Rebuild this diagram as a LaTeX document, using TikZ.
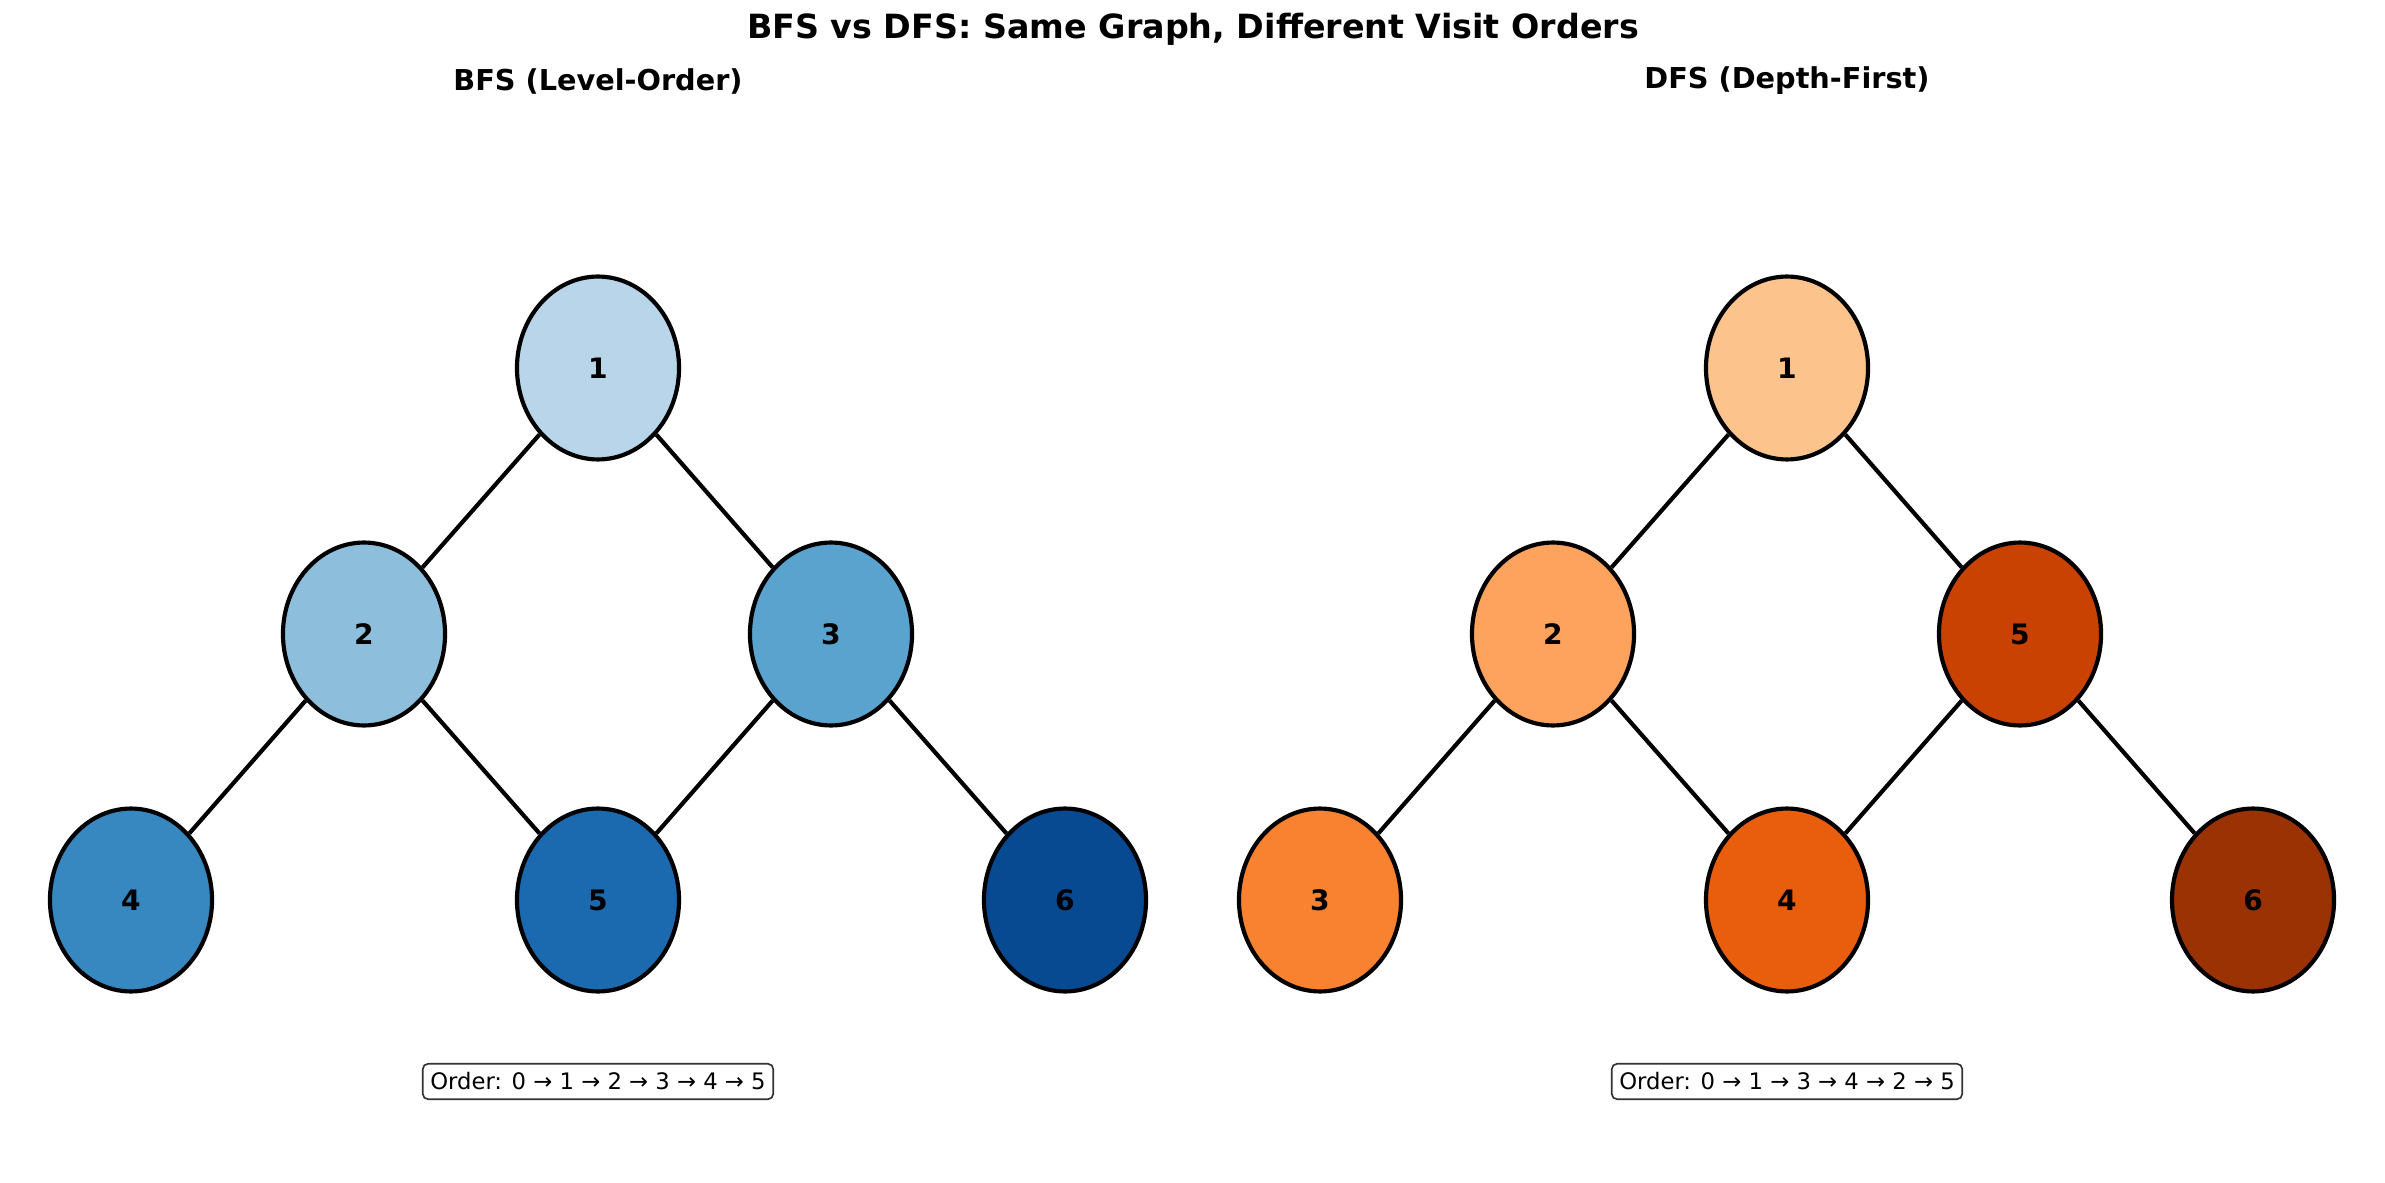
\documentclass[tikz,border=0pt]{standalone}
\usepackage{fontspec}
\setmainfont{DejaVu Sans}
\usetikzlibrary{shapes.geometric}
\definecolor{b1}{HTML}{B9D5EA}
\definecolor{b2}{HTML}{8DBFDD}
\definecolor{b3}{HTML}{5BA3CF}
\definecolor{b4}{HTML}{3787C0}
\definecolor{b5}{HTML}{1B69AF}
\definecolor{b6}{HTML}{084A91}
\definecolor{o1}{HTML}{FDC38D}
\definecolor{o2}{HTML}{FDA35D}
\definecolor{o3}{HTML}{F88230}
\definecolor{o4}{HTML}{E95E0D}
\definecolor{o5}{HTML}{CA4201}
\definecolor{o6}{HTML}{9A3203}
\tikzset{
  vertex/.style={ellipse, draw=black, line width=2pt, minimum width=77.8pt, minimum height=87.8pt, inner sep=0pt, font=\fontsize{13.5}{15}\selectfont\bfseries},
  edge/.style={line width=2pt, black},
  ttl/.style={font=\fontsize{16}{18}\selectfont\bfseries},
  sub/.style={font=\fontsize{13.8}{15}\selectfont\bfseries},
  orderbox/.style={draw=black!80, fill=white, rounded corners=2.5pt, line width=0.8pt, inner xsep=3.6pt, inner ysep=0pt, minimum height=17pt, font=\fontsize{10.9}{12}\selectfont}
}
\begin{document}
\begin{tikzpicture}[x=0.48pt, y=-0.48pt]
\useasboundingbox (0,0) rectangle (2385,1183);
\node[ttl, anchor=base] (title) at (1193,39) {BFS vs DFS: Same Graph, Different Visit Orders};
\node[sub] (bfst) at (598,81) {BFS (Level-Order)};
\node[sub] (dfst) at (1787,81) {DFS (Depth-First)};
% BFS
\node[vertex, fill=b1] (a1) at (598,368) {1};
\node[vertex, fill=b2] (a2) at (364,634) {2};
\node[vertex, fill=b3] (a3) at (831,634) {3};
\node[vertex, fill=b4] (a4) at (131,900) {4};
\node[vertex, fill=b5] (a5) at (598,900) {5};
\node[vertex, fill=b6] (a6) at (1065,900) {6};
\draw[edge] (a1) -- (a2);
\draw[edge] (a1) -- (a3);
\draw[edge] (a2) -- (a4);
\draw[edge] (a2) -- (a5);
\draw[edge] (a3) -- (a5);
\draw[edge] (a3) -- (a6);
% DFS
\node[vertex, fill=o1] (d1) at (1787,368) {1};
\node[vertex, fill=o2] (d2) at (1553,634) {2};
\node[vertex, fill=o5] (d5) at (2020,634) {5};
\node[vertex, fill=o3] (d3) at (1320,900) {3};
\node[vertex, fill=o4] (d4) at (1787,900) {4};
\node[vertex, fill=o6] (d6) at (2253,900) {6};
\draw[edge] (d1) -- (d2);
\draw[edge] (d1) -- (d5);
\draw[edge] (d2) -- (d3);
\draw[edge] (d2) -- (d4);
\draw[edge] (d5) -- (d4);
\draw[edge] (d5) -- (d6);
\node[orderbox] (bo) at (598,1081.5) {Order: 0 → 1 → 2 → 3 → 4 → 5};
\node[orderbox] (do) at (1787,1081.5) {Order: 0 → 1 → 3 → 4 → 2 → 5};
\end{tikzpicture}
\end{document}
